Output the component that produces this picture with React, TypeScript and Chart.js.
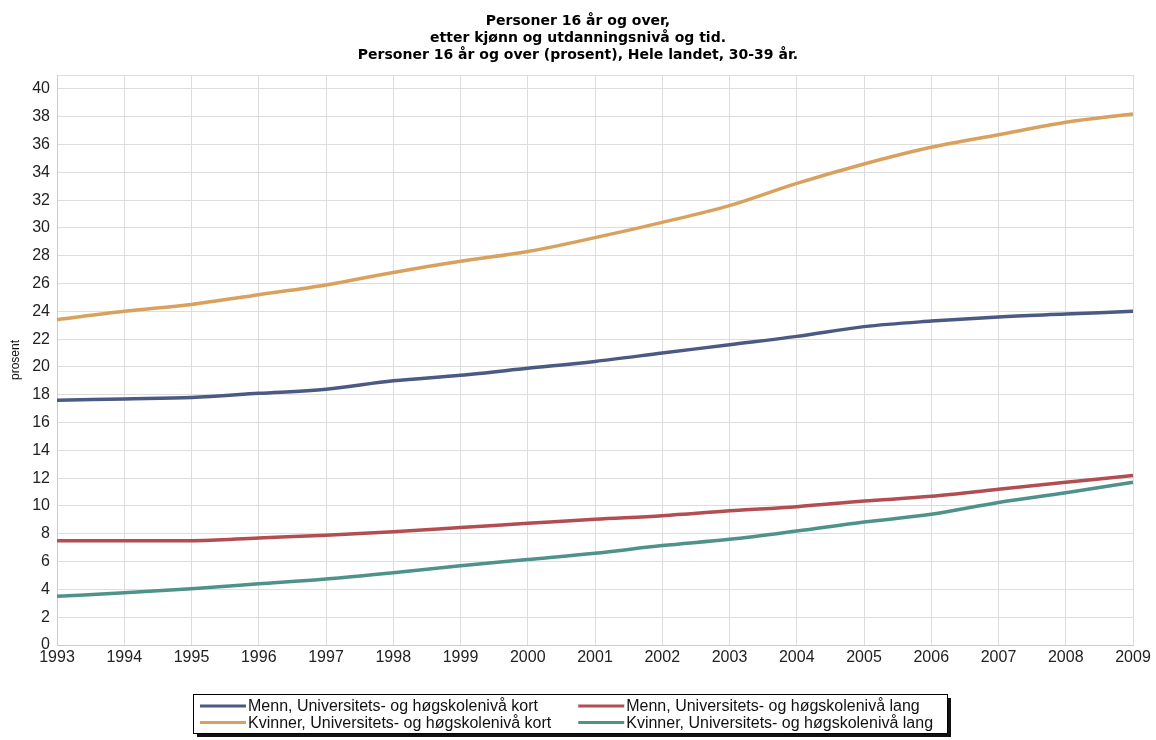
import React, { useEffect, useRef } from "react";
import { Chart, registerables } from "chart.js";

Chart.register(...registerables);

const TITLE_LINES = [
  "Personer 16 år og over,",
  "etter kjønn og utdanningsnivå og tid.",
  "Personer 16 år og over (prosent), Hele landet, 30-39 år.",
];

const YEARS = [
  "1993", "1994", "1995", "1996", "1997", "1998", "1999", "2000", "2001",
  "2002", "2003", "2004", "2005", "2006", "2007", "2008", "2009",
];

const MENN_KORT = [17.6, 17.7, 17.8, 18.1, 18.4, 19.0, 19.4, 19.9, 20.4, 21.0, 21.6, 22.2, 22.9, 23.3, 23.6, 23.8, 24.0];
const MENN_LANG = [7.5, 7.5, 7.5, 7.7, 7.9, 8.15, 8.45, 8.75, 9.05, 9.3, 9.65, 9.95, 10.35, 10.7, 11.2, 11.7, 12.2];
const KVINNER_KORT = [23.4, 24.0, 24.5, 25.2, 25.9, 26.8, 27.6, 28.3, 29.3, 30.4, 31.6, 33.2, 34.6, 35.8, 36.7, 37.6, 38.2];
const KVINNER_LANG = [3.5, 3.75, 4.05, 4.4, 4.75, 5.2, 5.7, 6.15, 6.6, 7.15, 7.6, 8.2, 8.85, 9.4, 10.25, 10.95, 11.7];

const SERIES_LABELS = [
  "Menn, Universitets- og høgskolenivå kort",
  "Menn, Universitets- og høgskolenivå lang",
  "Kvinner, Universitets- og høgskolenivå kort",
  "Kvinner, Universitets- og høgskolenivå lang",
];

const Y_TICKS = [0, 2, 4, 6, 8, 10, 12, 14, 16, 18, 20, 22, 24, 26, 28, 30, 32, 34, 36, 38, 40];
const Y_MAX = 41;
const Y_TITLE = "prosent";

const COLORS = ["#4b5a82", "#b24e52", "#d8a25e", "#4f928b"];

const SANS = '"Liberation Sans", Arial, sans-serif';

const titlePlugin = {
  id: "customTitle",
  afterDraw(chart: any) {
    const ctx = chart.ctx;
    ctx.save();
    ctx.font = 'bold 14px "DejaVu Sans", sans-serif';
    ctx.fillStyle = "#000";
    ctx.textAlign = "center";
    ctx.textBaseline = "alphabetic";
    const cx = chart.width / 2;
    TITLE_LINES.forEach((t, i) => {
      ctx.fillText(t, cx, 24.5 + i * 17);
    });
    ctx.restore();
  },
};

const legendPlugin = {
  id: "boxLegend",
  afterDraw(chart: any) {
    const ctx = chart.ctx;
    const ds = chart.data.datasets;
    ctx.save();
    ctx.font = "16px " + SANS;
    const lineLen = 46;
    const boxX = 193;
    const boxY = 694;
    const boxH = 39;
    const col1Line = boxX + 7;
    const col1Text = col1Line + lineLen + 2;
    const w1 = Math.max(ctx.measureText(ds[0].label).width, ctx.measureText(ds[2].label).width);
    const col2Line = col1Text + w1 + 27;
    const col2Text = col2Line + lineLen + 2;
    const w2 = Math.max(ctx.measureText(ds[1].label).width, ctx.measureText(ds[3].label).width);
    const boxW = Math.max(754, col2Text + w2 + 12 - boxX);
    // shadow
    ctx.fillStyle = "#111";
    ctx.fillRect(boxX + 4, boxY + 4, boxW, boxH);
    ctx.fillStyle = "#fff";
    ctx.fillRect(boxX, boxY, boxW, boxH);
    ctx.strokeStyle = "#000";
    ctx.lineWidth = 1;
    ctx.strokeRect(boxX + 0.5, boxY + 0.5, boxW, boxH);
    const rows = [706, 722.5];
    const pos = [
      [col1Line, col1Text, rows[0]],
      [col2Line, col2Text, rows[0]],
      [col1Line, col1Text, rows[1]],
      [col2Line, col2Text, rows[1]],
    ];
    ds.forEach((d: any, i: number) => {
      const [lx, tx, y] = pos[i];
      ctx.strokeStyle = d.borderColor;
      ctx.lineWidth = 3;
      ctx.beginPath();
      ctx.moveTo(lx, y);
      ctx.lineTo(lx + lineLen, y);
      ctx.stroke();
      ctx.fillStyle = "#111";
      ctx.textAlign = "left";
      ctx.textBaseline = "middle";
      ctx.fillText(d.label, tx, y + 1);
    });
    ctx.restore();
  },
};

const bgPlugin = {
  id: "bg",
  beforeDraw(chart: any) {
    const ctx = chart.ctx;
    ctx.save();
    ctx.fillStyle = "#fff";
    ctx.fillRect(0, 0, chart.width, chart.height);
    ctx.restore();
  },
};

export default function App() {
  const ref = useRef<HTMLCanvasElement | null>(null);

  useEffect(() => {
    if (!ref.current) return;
    const series = [MENN_KORT, MENN_LANG, KVINNER_KORT, KVINNER_LANG];
    const chart = new Chart(ref.current, {
      type: "line",
      data: {
        labels: YEARS,
        datasets: series.map((s, i) => ({
          label: SERIES_LABELS[i],
          data: s,
          borderColor: COLORS[i],
          backgroundColor: COLORS[i],
          borderWidth: 3.5,
          pointRadius: 0,
          cubicInterpolationMode: "monotone" as const,
          fill: false,
        })),
      },
      options: {
        responsive: false,
        devicePixelRatio: 1,
        animation: false,
        layout: { padding: { top: 75, right: 23, bottom: 65, left: 0 } },
        plugins: {
          legend: { display: false },
          title: { display: false },
          tooltip: { enabled: false },
        },
        scales: {
          x: {
            type: "category",
            offset: false,
            grid: { color: "#dddddd", drawTicks: false, offset: false },
            border: { color: "#cccccc" },
            ticks: {
              color: "#222",
              font: { family: SANS, size: 16 },
              padding: 3,
              maxRotation: 0,
              autoSkip: false,
            },
            afterFit(scale: any) {
              scale.height = 30;
            },
          },
          y: {
            min: 0,
            max: Y_MAX,
            grid: { color: "#dddddd", drawTicks: false },
            border: { color: "#cccccc" },
            title: {
              display: true,
              text: Y_TITLE,
              color: "#111",
              font: { family: SANS, size: 12 },
              padding: { top: 8, bottom: 0 },
            },
            ticks: {
              color: "#222",
              font: { family: SANS, size: 16 },
              padding: 7,
              callback: (v: any) => (Y_TICKS.includes(Number(v)) ? String(v) : ""),
            },
            afterBuildTicks(scale: any) {
              scale.ticks = [...Y_TICKS.map((v) => ({ value: v })), { value: Y_MAX }];
            },
            afterFit(scale: any) {
              scale.width = 57;
            },
          },
        },
      },
      plugins: [bgPlugin, titlePlugin, legendPlugin],
    });
    return () => chart.destroy();
  }, []);

  return (
    <div style={{ position: "fixed", left: 0, top: 0, width: 1156, height: 740, background: "#fff" }}>
      <canvas ref={ref} width={1156} height={740} />
    </div>
  );
}
